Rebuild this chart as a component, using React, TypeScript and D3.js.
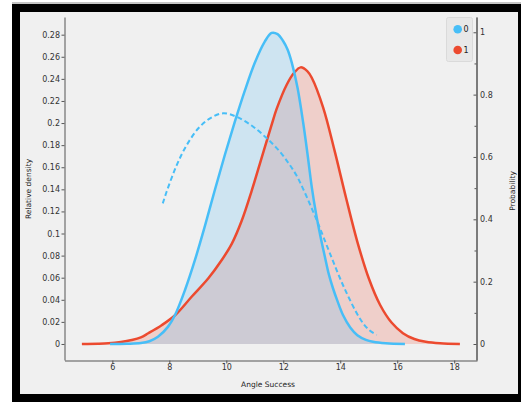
import React, { useEffect, useRef } from 'react';
import * as d3 from 'd3';

// class 0 density (Angle Success)
const angle0 = [5.92, 6.5, 7.0, 7.3, 7.6, 7.95, 8.2, 8.55, 8.9, 9.25, 9.6, 9.95, 10.3, 10.65, 11.0, 11.35, 11.59, 11.8, 12.0, 12.15, 12.3, 12.5, 12.7, 12.85, 13.0, 13.15, 13.3, 13.46, 13.6, 13.75, 13.9, 14.1, 14.35, 14.6, 14.9, 15.15, 15.6, 16.27];
const density0 = [0, 0.0002, 0.0008, 0.0025, 0.0065, 0.0155, 0.0263, 0.0489, 0.0761, 0.1069, 0.1396, 0.1713, 0.2012, 0.2293, 0.2546, 0.2737, 0.2816, 0.2805, 0.274, 0.2665, 0.2545, 0.232, 0.2, 0.172, 0.142, 0.118, 0.098, 0.079, 0.063, 0.05, 0.039, 0.026, 0.015, 0.008, 0.0038, 0.002, 0.0006, 0];

// class 1 density
const angle1 = [4.93, 5.5, 5.86, 6.3, 6.68, 7.0, 7.26, 7.73, 8.2, 8.79, 9.37, 9.84, 10.19, 10.54, 10.89, 11.24, 11.59, 11.77, 12.12, 12.38, 12.61, 12.85, 13.0, 13.4, 13.8, 14.2, 14.6, 15.0, 15.4, 15.8, 16.2, 16.6, 17.0, 17.5, 18.2];
const density1 = [0, 0.0002, 0.0006, 0.0018, 0.0036, 0.006, 0.0097, 0.017, 0.026, 0.043, 0.0595, 0.076, 0.0906, 0.1115, 0.1386, 0.1685, 0.1984, 0.213, 0.2347, 0.2455, 0.2504, 0.2468, 0.241, 0.214, 0.175, 0.1326, 0.0925, 0.0595, 0.0353, 0.0194, 0.0098, 0.0045, 0.002, 0.0006, 0];

// probability of class 0 (dashed)
const probAngle = [7.77, 7.91, 8.26, 8.61, 9.02, 9.43, 9.89, 10.36, 10.9, 11.42, 11.88, 12.2, 12.45, 12.7, 13.17, 13.64, 14.15, 14.7, 15.0, 15.28];
const prob0 = [0.451, 0.49, 0.574, 0.638, 0.692, 0.724, 0.74, 0.729, 0.7, 0.66, 0.617, 0.578, 0.543, 0.497, 0.398, 0.29, 0.178, 0.08, 0.046, 0.029];

const densityTicks = [0, 0.02, 0.04, 0.06, 0.08, 0.1, 0.12, 0.14, 0.16, 0.18, 0.2, 0.22, 0.24, 0.26, 0.28];
const probTicks = [0, 0.2, 0.4, 0.6, 0.8, 1];
const probMinorTicks = [0.1, 0.3, 0.5, 0.7, 0.9];
const angleTicks = [6, 8, 10, 12, 14, 16, 18];
const classes = ['0', '1'];
const colors = ['#47bef7', '#ec4a2f'];

const font = "'DejaVu Sans', sans-serif";

export default function App() {
  const ref = useRef<SVGSVGElement>(null);

  useEffect(() => {
    const svg = d3.select(ref.current);
    svg.selectAll('*').remove();

    // window frame
    svg.append('rect').attr('width', 521).attr('height', 402).attr('fill', '#ffffff');
    svg.append('rect').attr('x', 12).attr('y', 2).attr('width', 509).attr('height', 2).attr('fill', '#c4c4c4');
    svg.append('rect').attr('x', 12).attr('y', 4).attr('width', 509).attr('height', 398).attr('fill', '#000000');
    svg.append('rect').attr('x', 20).attr('y', 12).attr('width', 498).attr('height', 382).attr('fill', '#f0f0f0');

    const x = d3.scaleLinear().domain([4.32, 18.8]).range([64.5, 477]);
    const yL = d3.scaleLinear().domain([-0.0145, 0.296]).range([360, 17]);
    const yR = d3.scaleLinear().domain([-0.0513, 1.049]).range([360, 17]);

    const pts0 = angle0.map((a, i) => [a, density0[i]] as [number, number]);
    const pts1 = angle1.map((a, i) => [a, density1[i]] as [number, number]);
    const ptsP = probAngle.map((a, i) => [a, prob0[i]] as [number, number]);

    const curve = d3.curveCatmullRom.alpha(0.5);
    const area = d3.area<[number, number]>()
      .x(d => x(d[0]))
      .y0(yL(0))
      .y1(d => yL(d[1]))
      .curve(curve);
    const line = d3.line<[number, number]>()
      .x(d => x(d[0]))
      .y(d => yL(d[1]))
      .curve(curve);
    const probLine = d3.line<[number, number]>()
      .x(d => x(d[0]))
      .y(d => yR(d[1]))
      .curve(curve);

    svg.append('defs').append('clipPath').attr('id', 'clip0')
      .append('path').attr('d', area(pts0));

    svg.append('path').attr('d', area(pts0)).attr('fill', '#cee4f1');
    svg.append('path').attr('d', area(pts1)).attr('fill', '#efcfca');
    svg.append('path').attr('d', area(pts1)).attr('fill', '#cdcbd4').attr('clip-path', 'url(#clip0)');

    svg.append('path').attr('d', line(pts1)).attr('fill', 'none')
      .attr('stroke', colors[1]).attr('stroke-width', 2.5);
    svg.append('path').attr('d', line(pts0)).attr('fill', 'none')
      .attr('stroke', colors[0]).attr('stroke-width', 2.5);
    svg.append('path').attr('d', probLine(ptsP)).attr('fill', 'none')
      .attr('stroke', colors[0]).attr('stroke-width', 2).attr('stroke-dasharray', '5,3');

    // axes
    const styleAxis = (g: any) => {
      g.select('.domain').attr('stroke', '#555');
      g.selectAll('.tick line').attr('stroke', '#555');
      g.selectAll('.tick text').attr('fill', '#333').style('font-family', font).style('font-size', '8px');
    };

    svg.append('g').attr('transform', 'translate(64.5,0)')
      .call(d3.axisLeft(yL).tickValues(densityTicks).tickSizeInner(3).tickSizeOuter(0).tickPadding(1.5).tickFormat(d => String(d)))
      .call(styleAxis);

    svg.append('g').attr('transform', 'translate(0,360.5)')
      .call(d3.axisBottom(x).tickValues(angleTicks).tickSizeInner(3).tickSizeOuter(0).tickPadding(1).tickFormat(d => String(d)))
      .call(styleAxis);

    svg.append('g').attr('transform', 'translate(476.5,0)')
      .call(d3.axisRight(yR).tickValues(probMinorTicks).tickSizeInner(-2).tickSizeOuter(0).tickFormat(() => ''))
      .call(styleAxis);
    svg.append('g').attr('transform', 'translate(476.5,0)')
      .call(d3.axisRight(yR).tickValues(probTicks).tickSizeInner(-3).tickSizeOuter(0).tickPadding(3.5).tickFormat(d => String(d)))
      .call(styleAxis);

    // axis titles
    svg.append('text').attr('transform', 'translate(31,189) rotate(-90)')
      .attr('text-anchor', 'middle').attr('fill', '#222')
      .style('font-family', font).style('font-size', '7.5px').text('Relative density');
    svg.append('text').attr('transform', 'translate(514.5,191) rotate(-90)')
      .attr('text-anchor', 'middle').attr('fill', '#222')
      .style('font-family', font).style('font-size', '7.5px').text('Probability');
    svg.append('text').attr('x', 268).attr('y', 387)
      .attr('text-anchor', 'middle').attr('fill', '#222')
      .style('font-family', font).style('font-size', '7.5px').text('Angle Success');

    // legend
    const legend = svg.append('g');
    legend.append('rect').attr('x', 446.5).attr('y', 17.5).attr('width', 26).attr('height', 44)
      .attr('rx', 2).attr('fill', '#e8e8e8').attr('stroke', '#dadada');
    classes.forEach((c, i) => {
      legend.append('circle').attr('cx', 457.7).attr('cy', 29.3 + i * 20.7).attr('r', 4.3).attr('fill', colors[i]);
      legend.append('text').attr('x', 463.5).attr('y', 32.3 + i * 20.7).attr('fill', '#222')
        .style('font-family', font).style('font-size', '8px').text(c);
    });
  }, []);

  return (
    <svg ref={ref} width={521} height={402} style={{ position: 'absolute', left: 0, top: 0, display: 'block' }} />
  );
}
